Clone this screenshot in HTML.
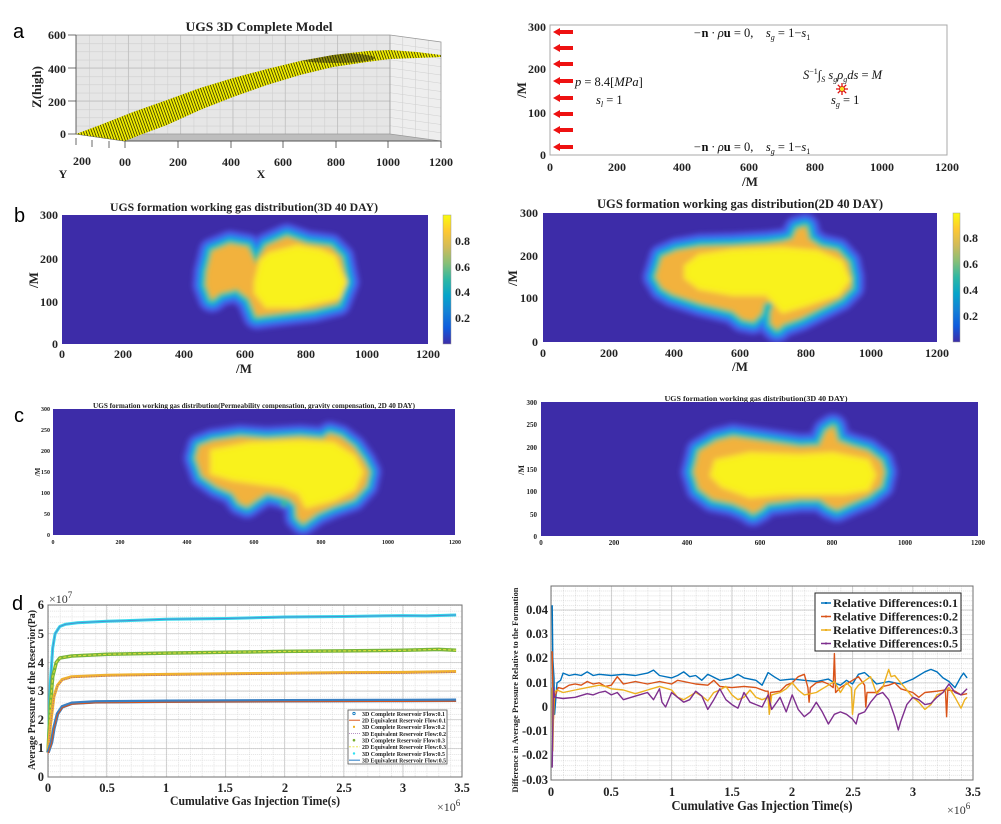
<!DOCTYPE html>
<html><head><meta charset="utf-8">
<style>
html,body{margin:0;padding:0;background:#fff;}
svg{display:block;}
.s{font-family:"Liberation Serif",serif;font-weight:bold;fill:#222;}
.m{font-family:"Liberation Serif",serif;font-style:italic;fill:#111;}
.l{font-family:"Liberation Sans",sans-serif;fill:#000;}
</style></head>
<body>
<svg width="1001" height="824" viewBox="0 0 1001 824" xmlns="http://www.w3.org/2000/svg">
<defs>
  <pattern id="gw" patternUnits="userSpaceOnUse" x="76" y="35" width="13.07" height="8.25">
    <path d="M0.3,0 V8.25 M0,0.3 H13.07" stroke="#cfcfcf" stroke-width="0.6" fill="none"/>
  </pattern>
  <pattern id="ys" patternUnits="userSpaceOnUse" width="2.6" height="2.6" patternTransform="rotate(70)">
    <rect width="2.6" height="2.6" fill="#f0ec00"/>
    <line x1="0" y1="0.4" x2="2.6" y2="0.4" stroke="#1a1a00" stroke-width="0.7"/>
  </pattern>
  <pattern id="gdl" patternUnits="userSpaceOnUse" x="48" y="777" width="11.83" height="5.733">
    <path d="M0.4,0 V5.733 M0,0.4 H11.83" stroke="#cfcfcf" stroke-width="0.6" stroke-dasharray="1,1" fill="none"/>
  </pattern>
  <pattern id="gdr" patternUnits="userSpaceOnUse" x="551" y="707" width="12.06" height="4.85">
    <path d="M0.4,0 V4.85 M0,0.4 H12.06" stroke="#cfcfcf" stroke-width="0.6" stroke-dasharray="1,1" fill="none"/>
  </pattern>
  <linearGradient id="par" x1="0" y1="1" x2="0" y2="0">
    <stop offset="0" stop-color="#3d2ca8"/>
    <stop offset="0.125" stop-color="#0f5cdd"/>
    <stop offset="0.25" stop-color="#1481d6"/>
    <stop offset="0.375" stop-color="#06a4ca"/>
    <stop offset="0.5" stop-color="#2eb7a4"/>
    <stop offset="0.625" stop-color="#87bf77"/>
    <stop offset="0.75" stop-color="#d1bb59"/>
    <stop offset="0.875" stop-color="#fec832"/>
    <stop offset="1" stop-color="#f9fb0e"/>
  </linearGradient>
  <filter id="bl" x="-30%" y="-30%" width="160%" height="160%"><feGaussianBlur stdDeviation="2.1"/></filter>
  <filter id="bl2" x="-30%" y="-30%" width="160%" height="160%"><feGaussianBlur stdDeviation="2.5"/></filter>
  <clipPath id="cb1"><rect x="62" y="215" width="366" height="129"/></clipPath>
  <clipPath id="cb2"><rect x="543" y="213" width="394" height="129"/></clipPath>
  <clipPath id="cc1"><rect x="53" y="409" width="402" height="126"/></clipPath>
  <clipPath id="cc2"><rect x="541" y="402" width="437" height="134"/></clipPath>
  <clipPath id="band"><path d="M76,134 L100,125 133,112 167,100 200,88 233,78 267,69 300,61 333,55 367,51 390,50 417,52 441,55 L441,57 417,58 390,59 367,62 333,67 300,75 267,85 233,97 200,110 167,125 140,135 125,141 Z"/></clipPath>
  <path id="pb1" d="M208,272 L213,252 230,245 247,248 255,265 267,247 287,238 307,245 330,248 340,258 345,282 337,302 313,308 280,312 257,315 250,298 237,288 220,292 212,298 207,285 Z"/>
  <path id="yb1" d="M257,282 L262,262 270,255 297,248 320,252 333,258 343,282 337,296 330,298 297,305 267,305 257,292 Z"/>
  <path id="pb2" d="M657,277 L663,258 677,252 700,248 733,247 767,245 783,243 793,240 798,230 805,228 808,240 820,248 837,252 847,263 850,277 850,287 840,297 820,307 800,317 783,323 777,328 772,323 772,313 775,303 770,300 763,303 760,313 753,320 743,318 733,310 700,302 673,293 663,287 Z"/>
  <path id="yb2" d="M687,267 L700,257 733,252 783,250 817,253 840,263 847,280 837,293 807,303 783,310 777,303 767,293 733,293 700,287 687,277 Z"/>
  <path id="pc1" d="M197,458 L200,447 213,442 240,438 267,440 300,438 323,440 330,435 340,438 353,448 363,462 368,472 365,485 353,498 333,505 317,512 303,522 298,517 297,505 290,498 280,495 267,492 257,498 247,505 240,502 233,492 217,485 203,475 Z"/>
  <path id="yc1" d="M213,452 L250,445 300,443 333,445 353,458 360,472 353,488 333,498 307,505 300,492 283,485 260,482 233,478 213,472 Z"/>
  <path id="pc2" d="M695,472 L700,452 717,442 733,438 767,443 800,448 820,447 827,432 833,428 837,442 850,447 867,452 880,462 883,472 880,485 867,495 850,502 837,508 830,505 820,498 800,498 767,502 760,508 753,512 747,508 733,502 713,498 700,488 Z"/>
  <path id="yc2" d="M717,462 L750,455 800,457 833,455 867,462 873,475 867,488 843,492 817,492 783,492 750,495 723,485 713,475 Z"/>
</defs>
<rect width="1001" height="824" fill="#fff"/>

<!-- ============ PANEL a LEFT ============ -->
<text class="l" x="13" y="38" font-size="20">a</text>
<text class="s" x="259" y="31" font-size="12.5" text-anchor="middle" textLength="147" lengthAdjust="spacingAndGlyphs">UGS 3D Complete Model</text>
<rect x="76" y="35" width="314" height="99" fill="#e6e6e6"/>
<rect x="76" y="35" width="314" height="99" fill="url(#gw)"/>
<path d="M128.3,35V134M180.6,35V134M232.9,35V134M285.2,35V134M337.5,35V134M76,68H390M76,101H390" stroke="#bdbdbd" stroke-width="0.7"/>
<polygon points="390,35 441,42 441,141 390,134" fill="#eeeeee"/>
<path d="M390,43.25L441,50.25M390,51.5L441,58.5M390,59.75L441,66.75M390,68L441,75M390,76.25L441,83.25M390,84.5L441,91.5M390,92.75L441,99.75M390,101L441,108M390,109.25L441,116.25M390,117.5L441,124.5M390,125.75L441,132.75M402.75,36.75V135.75M415.5,38.5V137.5M428.25,40.25V139.25" stroke="#d0d0d0" stroke-width="0.6"/>
<polygon points="76,134 390,134 441,141 125,141" fill="#bdbdbd"/>
<path d="M76,35H390M390,35V134M390,35L441,42V141M76,134H390L441,141" stroke="#999" stroke-width="0.8" fill="none"/>
<path d="M76,35V134L125,141H441" stroke="#555" stroke-width="0.9" fill="none"/>
<path d="M76,134 L100,125 133,112 167,100 200,88 233,78 267,69 300,61 333,55 367,51 390,50 417,52 441,55 L441,57 417,58 390,59 367,62 333,67 300,75 267,85 233,97 200,110 167,125 140,135 125,141 Z" fill="url(#ys)"/>
<g clip-path="url(#band)"><ellipse cx="335" cy="58" rx="40" ry="5" fill="#111" opacity="0.45"/></g>
<path d="M68,35H76M68,68H76M68,101H76M68,134H76" stroke="#444" stroke-width="0.8"/>
<path d="M125,141V148M178,141V148M231,141V148M283,141V148M336,141V148M388,141V148M441,141V148M76,138V145M92,140V147M109,141V148" stroke="#444" stroke-width="0.8"/>
<g class="s" font-size="12">
<text x="66" y="39" text-anchor="end">600</text>
<text x="66" y="73" text-anchor="end">400</text>
<text x="66" y="106" text-anchor="end">200</text>
<text x="66" y="138" text-anchor="end">0</text>
<text x="82" y="165" text-anchor="middle">200</text>
<text x="125" y="166" text-anchor="middle">00</text>
<text x="178" y="166" text-anchor="middle">200</text>
<text x="231" y="166" text-anchor="middle">400</text>
<text x="283" y="166" text-anchor="middle">600</text>
<text x="336" y="166" text-anchor="middle">800</text>
<text x="388" y="166" text-anchor="middle">1000</text>
<text x="441" y="166" text-anchor="middle">1200</text>
<text x="63" y="178" text-anchor="middle">Y</text>
<text x="261" y="178" text-anchor="middle">X</text>
<text transform="translate(41,87) rotate(-90)" text-anchor="middle" font-size="13">Z(high)</text>
</g>

<!-- ============ PANEL a RIGHT ============ -->
<rect x="550" y="25" width="397" height="130" fill="#fff" stroke="#a8a8a8" stroke-width="1"/>
<g fill="#ee1111">
<path d="M553,32 L560,28 V30 H573 V34 H560 V36 Z"/>
<path d="M553,48 L560,44 V46 H573 V50 H560 V52 Z"/>
<path d="M553,64 L560,60 V62 H573 V66 H560 V68 Z"/>
<path d="M553,81 L560,77 V79 H573 V83 H560 V85 Z"/>
<path d="M553,98 L560,94 V96 H573 V100 H560 V102 Z"/>
<path d="M553,114 L560,110 V112 H573 V116 H560 V118 Z"/>
<path d="M553,130 L560,126 V128 H573 V132 H560 V134 Z"/>
<path d="M553,147 L560,143 V145 H573 V149 H560 V151 Z"/>
</g>
<g class="s" font-size="12">
<text x="546" y="31" text-anchor="end">300</text>
<text x="546" y="73" text-anchor="end">200</text>
<text x="546" y="117" text-anchor="end">100</text>
<text x="546" y="159" text-anchor="end">0</text>
<text x="550" y="171" text-anchor="middle">0</text>
<text x="617" y="171" text-anchor="middle">200</text>
<text x="682" y="171" text-anchor="middle">400</text>
<text x="749" y="171" text-anchor="middle">600</text>
<text x="815" y="171" text-anchor="middle">800</text>
<text x="882" y="171" text-anchor="middle">1000</text>
<text x="947" y="171" text-anchor="middle">1200</text>
<text x="750" y="186" text-anchor="middle" font-size="13">/M</text>
<text transform="translate(526,90) rotate(-90)" text-anchor="middle" font-size="13">/M</text>
</g>
<g class="m" font-size="12.5">
<text x="693" y="37">−<tspan font-weight="bold" font-style="normal">n</tspan> · ρ<tspan font-weight="bold" font-style="normal">u</tspan><tspan font-style="normal"> = 0,</tspan>&#160;&#160;&#160; s<tspan font-size="8" dy="3">g</tspan><tspan dy="-3" font-style="normal"> = 1−</tspan>s<tspan font-size="8" dy="3" font-style="normal">1</tspan></text>
<text x="693" y="151">−<tspan font-weight="bold" font-style="normal">n</tspan> · ρ<tspan font-weight="bold" font-style="normal">u</tspan><tspan font-style="normal"> = 0,</tspan>&#160;&#160;&#160; s<tspan font-size="8" dy="3">g</tspan><tspan dy="-3" font-style="normal"> = 1−</tspan>s<tspan font-size="8" dy="3" font-style="normal">1</tspan></text>
<text x="575" y="86">p<tspan font-style="normal"> = 8.4[</tspan>MPa<tspan font-style="normal">]</tspan></text>
<text x="596" y="104">s<tspan font-size="8" dy="3">l</tspan><tspan dy="-3" font-style="normal"> = 1</tspan></text>
<text x="803" y="79">S<tspan font-size="8" dy="-5" font-style="normal">−1</tspan><tspan dy="5" font-style="normal">∫</tspan><tspan font-size="8" dy="3">S</tspan><tspan dy="-3"> s</tspan><tspan font-size="8" dy="3">g</tspan><tspan dy="-3">ρ</tspan><tspan font-size="8" dy="3">g</tspan><tspan dy="-3">ds</tspan><tspan font-style="normal"> = </tspan>M</text>
<text x="831" y="104">s<tspan font-size="8" dy="3">g</tspan><tspan dy="-3" font-style="normal"> = 1</tspan></text>
</g>
<g stroke="#e01010" stroke-width="1.3">
<path d="M836,89H848M842,83V95M837.8,84.8L846.2,93.2M846.2,84.8L837.8,93.2"/>
</g>
<circle cx="842" cy="89" r="2.6" fill="#f5e020" stroke="#d01010" stroke-width="0.8"/>

<!-- ============ PANEL b LEFT ============ -->
<text class="l" x="14" y="222" font-size="20">b</text>
<text class="s" x="244" y="211" font-size="12" text-anchor="middle" textLength="268" lengthAdjust="spacingAndGlyphs">UGS formation working gas distribution(3D 40 DAY)</text>
<g clip-path="url(#cb1)">
<rect x="62" y="215" width="366" height="129" fill="#3d2ca8"/>
<g filter="url(#bl)" stroke-linejoin="round">
<use href="#pb1" fill="#4a4fdc" stroke="#4a4fdc" stroke-width="30"/>
<use href="#pb1" fill="#2a78f0" stroke="#2a78f0" stroke-width="22"/>
<use href="#pb1" fill="#12b2d4" stroke="#12b2d4" stroke-width="15"/>
<use href="#pb1" fill="#3cbf96" stroke="#3cbf96" stroke-width="9"/>
<use href="#pb1" fill="#a8bc5c" stroke="#a8bc5c" stroke-width="4"/>
<use href="#pb1" fill="#f2b23e"/>
<use href="#yb1" fill="#f8d830" stroke="#f8d830" stroke-width="8"/>
<use href="#yb1" fill="#f9f21c" stroke="#f9ec20" stroke-width="3"/>
</g>
</g>
<rect x="443" y="215" width="8" height="129" fill="url(#par)" stroke="#999" stroke-width="0.5"/>
<g class="s" font-size="12">
<text x="455" y="245">0.8</text>
<text x="455" y="271">0.6</text>
<text x="455" y="296">0.4</text>
<text x="455" y="322">0.2</text>
<text x="58" y="219" text-anchor="end">300</text>
<text x="58" y="263" text-anchor="end">200</text>
<text x="58" y="306" text-anchor="end">100</text>
<text x="58" y="348" text-anchor="end">0</text>
<text x="62" y="358" text-anchor="middle">0</text>
<text x="123" y="358" text-anchor="middle">200</text>
<text x="184" y="358" text-anchor="middle">400</text>
<text x="245" y="358" text-anchor="middle">600</text>
<text x="306" y="358" text-anchor="middle">800</text>
<text x="367" y="358" text-anchor="middle">1000</text>
<text x="428" y="358" text-anchor="middle">1200</text>
<text x="244" y="373" text-anchor="middle" font-size="13">/M</text>
<text transform="translate(38,280) rotate(-90)" text-anchor="middle" font-size="13">/M</text>
</g>

<!-- ============ PANEL b RIGHT ============ -->
<text class="s" x="740" y="208" font-size="12.5" text-anchor="middle" textLength="286" lengthAdjust="spacingAndGlyphs">UGS formation working gas distribution(2D 40 DAY)</text>
<g clip-path="url(#cb2)">
<rect x="543" y="213" width="394" height="129" fill="#3d2ca8"/>
<g filter="url(#bl)" stroke-linejoin="round">
<use href="#pb2" fill="#4a4fdc" stroke="#4a4fdc" stroke-width="30"/>
<use href="#pb2" fill="#2a78f0" stroke="#2a78f0" stroke-width="22"/>
<use href="#pb2" fill="#12b2d4" stroke="#12b2d4" stroke-width="15"/>
<use href="#pb2" fill="#3cbf96" stroke="#3cbf96" stroke-width="9"/>
<use href="#pb2" fill="#a8bc5c" stroke="#a8bc5c" stroke-width="4"/>
<use href="#pb2" fill="#f2b23e"/>
<use href="#yb2" fill="#f8d830" stroke="#f8d830" stroke-width="8"/>
<use href="#yb2" fill="#f9f21c" stroke="#f9ec20" stroke-width="3"/>
</g>
</g>
<rect x="953" y="213" width="7" height="129" fill="url(#par)" stroke="#999" stroke-width="0.5"/>
<g class="s" font-size="12">
<text x="963" y="242">0.8</text>
<text x="963" y="268">0.6</text>
<text x="963" y="294">0.4</text>
<text x="963" y="320">0.2</text>
<text x="538" y="217" text-anchor="end">300</text>
<text x="538" y="260" text-anchor="end">200</text>
<text x="538" y="302" text-anchor="end">100</text>
<text x="538" y="346" text-anchor="end">0</text>
<text x="543" y="357" text-anchor="middle">0</text>
<text x="609" y="357" text-anchor="middle">200</text>
<text x="674" y="357" text-anchor="middle">400</text>
<text x="740" y="357" text-anchor="middle">600</text>
<text x="806" y="357" text-anchor="middle">800</text>
<text x="871" y="357" text-anchor="middle">1000</text>
<text x="937" y="357" text-anchor="middle">1200</text>
<text x="740" y="371" text-anchor="middle" font-size="13">/M</text>
<text transform="translate(517,278) rotate(-90)" text-anchor="middle" font-size="13">/M</text>
</g>

<!-- ============ PANEL c LEFT ============ -->
<text class="l" x="14" y="422" font-size="20">c</text>
<text class="s" x="254" y="408" font-size="7" text-anchor="middle" textLength="322" lengthAdjust="spacingAndGlyphs">UGS formation working gas distribution(Permeability compensation, gravity compensation, 2D 40 DAY)</text>
<g clip-path="url(#cc1)">
<rect x="53" y="409" width="402" height="126" fill="#3d2ca8"/>
<g filter="url(#bl2)" stroke-linejoin="round">
<use href="#pc1" fill="#4a4fdc" stroke="#4a4fdc" stroke-width="28"/>
<use href="#pc1" fill="#2a78f0" stroke="#2a78f0" stroke-width="20"/>
<use href="#pc1" fill="#12b2d4" stroke="#12b2d4" stroke-width="14"/>
<use href="#pc1" fill="#3cbf96" stroke="#3cbf96" stroke-width="8"/>
<use href="#pc1" fill="#a8bc5c" stroke="#a8bc5c" stroke-width="4"/>
<use href="#pc1" fill="#f2b23e"/>
<use href="#yc1" fill="#f8d830" stroke="#f8d830" stroke-width="8"/>
<use href="#yc1" fill="#f9f21c" stroke="#f9ec20" stroke-width="3"/>
<circle cx="284" cy="504" r="3" fill="#3cbf8c"/>
</g>
</g>
<g class="s" font-size="6">
<text x="50" y="411" text-anchor="end">300</text>
<text x="50" y="432" text-anchor="end">250</text>
<text x="50" y="453" text-anchor="end">200</text>
<text x="50" y="474" text-anchor="end">150</text>
<text x="50" y="495" text-anchor="end">100</text>
<text x="50" y="516" text-anchor="end">50</text>
<text x="50" y="537" text-anchor="end">0</text>
<text x="53" y="544" text-anchor="middle">0</text>
<text x="120" y="544" text-anchor="middle">200</text>
<text x="187" y="544" text-anchor="middle">400</text>
<text x="254" y="544" text-anchor="middle">600</text>
<text x="321" y="544" text-anchor="middle">800</text>
<text x="388" y="544" text-anchor="middle">1000</text>
<text x="455" y="544" text-anchor="middle">1200</text>
<text transform="translate(40,472) rotate(-90)" text-anchor="middle" font-size="7">/M</text>
</g>

<!-- ============ PANEL c RIGHT ============ -->
<text class="s" x="756" y="401" font-size="7.5" text-anchor="middle" textLength="183" lengthAdjust="spacingAndGlyphs">UGS formation working gas distribution(3D 40 DAY)</text>
<g clip-path="url(#cc2)">
<rect x="541" y="402" width="437" height="134" fill="#3d2ca8"/>
<g filter="url(#bl2)" stroke-linejoin="round">
<use href="#pc2" fill="#4a4fdc" stroke="#4a4fdc" stroke-width="30"/>
<use href="#pc2" fill="#2a78f0" stroke="#2a78f0" stroke-width="22"/>
<use href="#pc2" fill="#12b2d4" stroke="#12b2d4" stroke-width="15"/>
<use href="#pc2" fill="#3cbf96" stroke="#3cbf96" stroke-width="9"/>
<use href="#pc2" fill="#a8bc5c" stroke="#a8bc5c" stroke-width="4"/>
<use href="#pc2" fill="#f2b23e"/>
<use href="#yc2" fill="#f8d830" stroke="#f8d830" stroke-width="8"/>
<use href="#yc2" fill="#f9f21c" stroke="#f9ec20" stroke-width="3"/>
</g>
</g>
<g class="s" font-size="7">
<text x="537" y="405" text-anchor="end">300</text>
<text x="537" y="427" text-anchor="end">250</text>
<text x="537" y="450" text-anchor="end">200</text>
<text x="537" y="472" text-anchor="end">150</text>
<text x="537" y="494" text-anchor="end">100</text>
<text x="537" y="517" text-anchor="end">50</text>
<text x="537" y="539" text-anchor="end">0</text>
<text x="541" y="545" text-anchor="middle">0</text>
<text x="614" y="545" text-anchor="middle">200</text>
<text x="687" y="545" text-anchor="middle">400</text>
<text x="760" y="545" text-anchor="middle">600</text>
<text x="832" y="545" text-anchor="middle">800</text>
<text x="905" y="545" text-anchor="middle">1000</text>
<text x="978" y="545" text-anchor="middle">1200</text>
<text transform="translate(524,470) rotate(-90)" text-anchor="middle" font-size="8">/M</text>
</g>

<!-- ============ PANEL d LEFT ============ -->
<text class="l" x="12" y="610" font-size="20">d</text>
<rect x="48" y="605" width="414" height="172" fill="#fff"/>
<rect x="48" y="605" width="414" height="172" fill="url(#gdl)"/>
<path d="M106.3,605V777M166.3,605V777M225.5,605V777M284.6,605V777M343.8,605V777M402.9,605V777M48,748.3H462M48,719.7H462M48,691H462M48,662.3H462M48,633.7H462" stroke="#c4c4c4" stroke-width="0.7"/>
<rect x="48" y="605" width="414" height="172" fill="none" stroke="#707070" stroke-width="1"/>
<polyline fill="none" stroke="#36d8ec" stroke-width="3" stroke-linejoin="round" points="48,752.6 49.2,719.7 50.4,682.4 52.7,648 55.1,633.7 59.8,626.5 65.7,624.2 77.6,622.8 107.2,621.3 166.3,619.3 225.5,618.5 284.6,617 343.8,616.5 402.9,615.6 426.6,615.9 456.1,615"/>
<polyline fill="none" stroke="#4a8fcf" stroke-width="1" points="48,752.6 49.2,719.7 50.4,682.4 52.7,648 55.1,633.7 59.8,626.5 65.7,624.2 77.6,622.8 107.2,621.3 166.3,619.3 225.5,618.5 284.6,617 343.8,616.5 402.9,615.6 426.6,615.9 456.1,615"/>
<polyline fill="none" stroke="#78b43a" stroke-width="3.5" stroke-linejoin="round" points="48,752.6 50.4,705.3 52.7,676.7 56.3,662.3 59.8,658 71.7,656 107.2,654.3 166.3,653.1 225.5,652.3 284.6,651.4 343.8,650.9 402.9,650.3 438.4,649.4 456.1,650.3"/>
<polyline fill="none" stroke="#e6e23a" stroke-width="1" stroke-dasharray="3,2" points="48,752.6 50.4,705.3 52.7,676.7 56.3,662.3 59.8,658 71.7,656 107.2,654.3 166.3,653.1 225.5,652.3 284.6,651.4 343.8,650.9 402.9,650.3 438.4,649.4 456.1,650.3"/>
<polyline fill="none" stroke="#efb030" stroke-width="3" stroke-linejoin="round" points="48,752.6 50.4,725.4 53.9,696.7 57.5,685.3 62.2,679.5 71.7,676.7 107.2,675.2 166.3,674.4 225.5,673.8 284.6,673.2 343.8,672.6 402.9,672.4 456.1,671.5"/>
<polyline fill="none" stroke="#9a5aa8" stroke-width="0.8" stroke-dasharray="1,1.5" points="48,753.6 50.4,726.4 53.9,697.7 57.5,686.3 62.2,680.5 71.7,677.7 107.2,676.2 166.3,675.4 225.5,674.8 284.6,674.2 343.8,673.6 402.9,673.4 456.1,672.5"/>
<polyline fill="none" stroke="#3b80c2" stroke-width="3.5" stroke-linejoin="round" points="48,752.6 51.5,742.6 53.9,728.3 57.5,713.9 62.2,706.8 71.7,703.3 95.3,701.9 166.3,701.3 284.6,700.7 402.9,700.5 456.1,700.2"/>
<polyline fill="none" stroke="#d95319" stroke-width="1" points="48,753.6 51.5,743.6 53.9,729.3 57.5,714.9 62.2,707.8 71.7,704.3 95.3,702.9 166.3,702.3 284.6,701.7 402.9,701.5 456.1,701.2"/>
<rect x="348" y="710" width="99" height="54" fill="#fff" stroke="#555" stroke-width="0.8"/>
<circle cx="354" cy="713.5" r="1.2" fill="none" stroke="#0072bd" stroke-width="0.8"/>
<line x1="349" y1="720.2" x2="360" y2="720.2" stroke="#d95319" stroke-width="1"/>
<rect x="353" y="725.8" width="2" height="2" fill="#edb120"/>
<line x1="349" y1="733.5" x2="360" y2="733.5" stroke="#a070b0" stroke-width="0.8" stroke-dasharray="1,1"/>
<circle cx="354" cy="740.2" r="1.3" fill="#77ac30"/>
<line x1="349" y1="746.8" x2="360" y2="746.8" stroke="#e6e23a" stroke-width="0.9" stroke-dasharray="2,1.5"/>
<circle cx="354" cy="753.5" r="1.2" fill="#30e0f0"/>
<line x1="349" y1="760.2" x2="360" y2="760.2" stroke="#4a8fcf" stroke-width="1.2"/>
<g class="s" font-size="6">
<text x="362" y="715.8" textLength="83" lengthAdjust="spacingAndGlyphs">3D Complete Reservoir Flow:0.1</text>
<text x="362" y="722.5" textLength="84" lengthAdjust="spacingAndGlyphs">2D Equivalent Reservoir Flow:0.1</text>
<text x="362" y="729.1" textLength="83" lengthAdjust="spacingAndGlyphs">3D Complete Reservoir Flow:0.2</text>
<text x="362" y="735.8" textLength="84" lengthAdjust="spacingAndGlyphs">3D Equivalent Reservoir Flow:0.2</text>
<text x="362" y="742.5" textLength="83" lengthAdjust="spacingAndGlyphs">3D Complete Reservoir Flow:0.3</text>
<text x="362" y="749.1" textLength="84" lengthAdjust="spacingAndGlyphs">2D Equivalent Reservoir Flow:0.3</text>
<text x="362" y="755.8" textLength="83" lengthAdjust="spacingAndGlyphs">3D Complete Reservoir Flow:0.5</text>
<text x="362" y="762.5" textLength="84" lengthAdjust="spacingAndGlyphs">3D Equivalent Reservoir Flow:0.5</text>
</g>
<g class="s" font-size="12.5">
<text x="44" y="609" text-anchor="end">6</text>
<text x="44" y="638" text-anchor="end">5</text>
<text x="44" y="667" text-anchor="end">4</text>
<text x="44" y="695" text-anchor="end">3</text>
<text x="44" y="724" text-anchor="end">2</text>
<text x="44" y="752" text-anchor="end">1</text>
<text x="44" y="781" text-anchor="end">0</text>
<text x="48" y="792" text-anchor="middle">0</text>
<text x="107" y="792" text-anchor="middle">0.5</text>
<text x="166" y="792" text-anchor="middle">1</text>
<text x="225" y="792" text-anchor="middle">1.5</text>
<text x="285" y="792" text-anchor="middle">2</text>
<text x="344" y="792" text-anchor="middle">2.5</text>
<text x="403" y="792" text-anchor="middle">3</text>
<text x="462" y="792" text-anchor="middle">3.5</text>
<text x="255" y="805" text-anchor="middle" font-size="13" textLength="170" lengthAdjust="spacingAndGlyphs">Cumulative Gas Injection Time(s)</text>
<text transform="translate(35,690) rotate(-90)" text-anchor="middle" font-size="10" textLength="160" lengthAdjust="spacingAndGlyphs">Average Pressure of the Reservior(Pa)</text>
</g>
<text x="49" y="603" font-family="Liberation Serif,serif" font-size="12" fill="#333">×10<tspan font-size="9" dy="-5">7</tspan></text>
<text x="437" y="811" font-family="Liberation Serif,serif" font-size="12" fill="#333">×10<tspan font-size="9" dy="-5">6</tspan></text>

<!-- ============ PANEL d RIGHT ============ -->
<rect x="551" y="586" width="422" height="194" fill="#fff"/>
<rect x="551" y="586" width="422" height="194" fill="url(#gdr)"/>
<path d="M611.3,586V780M671.6,586V780M731.9,586V780M792.2,586V780M852.5,586V780M912.8,586V780M551,610H973M551,634.3H973M551,658.5H973M551,682.8H973M551,707H973M551,731.3H973M551,755.5H973" stroke="#c4c4c4" stroke-width="0.7"/>
<rect x="551" y="586" width="422" height="194" fill="none" stroke="#707070" stroke-width="1"/>
<g fill="none" stroke-width="1.4" stroke-linejoin="round">
<polyline stroke="#0072bd" points="552.2,605.2 552.8,658.5 554,677.9 554.6,714.3 557,682.8 560.6,680.3 563.1,673.1 569.1,675.5 575.1,674.3 581.2,675.5 587.2,671.8 593.2,675.5 599.2,674.3 611.3,675.5 623.4,674.3 635.4,675.5 647.5,673.1 653.5,670.1 659.5,675.5 671.6,677.9 677.6,675.5 683.7,671.8 689.7,676.7 695.7,675.5 701.8,680.3 707.8,674.3 719.8,680.3 731.9,677.9 737.9,674.3 744,677.9 756,680.3 762.1,685.2 768.1,672.6 774.1,676.7 780.1,680.3 792.2,679.1 804.3,680.3 816.3,681.5 828.4,679.1 834.4,682.8 840.4,685.2 846.5,680.3 852.5,684 858.5,674.3 864.6,672.6 870.6,677.9 876.6,684 888.7,681.5 900.7,684 912.8,679.1 924.9,671.8 930.9,669.4 936.9,671.8 943,677.9 949,681.5 955,687.6 961,676.7 963.5,673.1 967.1,677.9"/>
<polyline stroke="#d95319" points="552.2,651.2 553.4,719.1 554.6,697.3 558.2,687.6 563.1,688.8 569.1,685.2 575.1,684 581.2,685.2 587.2,681.5 593.2,684 599.2,682.8 605.3,686.4 611.3,685.2 617.3,676.7 623.4,684 635.4,681.5 647.5,684 659.5,681.5 671.6,684 677.6,680.3 683.7,681.5 695.7,684 707.8,685.2 713.8,680.3 719.8,686.4 731.9,687.6 744,686.4 756,687.6 765.7,691.2 768.1,691.2 769.3,709.4 770.5,692.5 780.1,691.2 786.2,685.2 792.2,682.8 798.2,676.7 804.3,674.3 807.9,687.6 809.1,702.2 810.3,687.6 816.3,682.8 822.3,681.5 828.4,684 833.2,687.6 834.4,653.6 835.6,692.5 840.4,687.6 846.5,684 852.5,680.3 858.5,676.7 864.6,685.2 865.8,707 867,692.5 876.6,692.5 882.7,686.4 888.7,685.2 894.7,682.8 900.7,688.8 912.8,692.5 918.8,697.3 924.9,692.5 936.9,691.2 945.4,690 946.6,716.7 947.8,690 955,691.2 961,694.9 967.1,693.7"/>
<polyline stroke="#edb120" points="552.2,687.6 552.8,750.7 554,692.5 557,690 563.1,692.5 575.1,690 587.2,687.6 599.2,685.2 605.3,686.4 611.3,688.8 623.4,690 635.4,693.7 647.5,690 659.5,686.4 671.6,690 677.6,697.3 683.7,699.7 695.7,692.5 701.8,696.1 707.8,700.9 713.8,692.5 719.8,690 725.9,686.4 731.9,694.9 737.9,699.7 744,697.3 750,690 756,697.3 762.1,699.7 768.1,697.3 769.3,714.3 771.7,694.9 780.1,692.5 786.2,688.8 792.2,682.8 798.2,690 804.3,694.9 816.3,692.5 822.3,688.8 828.4,685.2 834.4,681.5 840.4,692.5 846.5,682.8 851.3,687.6 852.5,714.3 854.9,690 858.5,685.2 870.6,676.7 876.6,693.7 882.7,687.6 888.7,669.4 891.1,676.7 894.7,675.5 900.7,682.8 906.8,690 912.8,697.3 918.8,702.2 924.9,709.4 930.9,704.6 936.9,694.9 943,692.5 949,687.6 955,697.3 961,708.2 964.7,699.7 967.1,697.3"/>
<polyline stroke="#7e2f8e" points="552.2,767.6 553.4,687.6 554.6,697.3 563.1,698.5 575.1,697.3 587.2,693.7 593.2,694.9 599.2,692.5 605.3,691.2 611.3,694.9 617.3,692.5 623.4,699.7 635.4,696.1 647.5,692.5 653.5,699.7 659.5,688.8 662,702.2 665.6,707 671.6,692.5 677.6,697.3 683.7,702.2 689.7,699.7 695.7,691.2 701.8,696.1 707.8,709.4 713.8,699.7 719.8,688.8 725.9,699.7 731.9,704.6 737.9,708.2 744,692.5 750,702.2 756,704.6 762.1,707 768.1,694.9 771.7,709.4 780.1,697.3 786.2,711.9 792.2,694.9 798.2,709.4 804.3,716.7 810.3,711.9 816.3,702.2 822.3,711.9 828.4,724 834.4,714.3 840.4,711.9 846.5,714.3 852.5,719.1 856.1,724 858.5,714.3 864.6,711.9 870.6,702.2 876.6,694.9 882.7,692.5 888.7,699.7 894.7,716.7 898.3,730 900.7,721.6 906.8,704.6 912.8,697.3 918.8,699.7 924.9,704.6 930.9,703.4 936.9,697.3 943,692.5 949,684 955,692.5 961,694.9 967.1,688.8"/>
</g>
<rect x="815" y="593" width="146" height="58" fill="#fff" stroke="#222" stroke-width="1"/>
<line x1="821" y1="603" x2="831" y2="603" stroke="#0072bd" stroke-width="1.5"/><rect x="825" y="602" width="2" height="2" fill="#0072bd"/>
<line x1="821" y1="616.5" x2="831" y2="616.5" stroke="#d95319" stroke-width="1.5"/><rect x="825" y="615.5" width="2" height="2" fill="#d95319"/>
<line x1="821" y1="630" x2="831" y2="630" stroke="#edb120" stroke-width="1.5"/><rect x="825" y="629" width="2" height="2" fill="#edb120"/>
<line x1="821" y1="643.5" x2="831" y2="643.5" stroke="#7e2f8e" stroke-width="1.5"/><rect x="825" y="642.5" width="2" height="2" fill="#7e2f8e"/>
<g class="s" font-size="12">
<text x="833" y="607" textLength="125" lengthAdjust="spacingAndGlyphs">Relative Differences:0.1</text>
<text x="833" y="620.5" textLength="125" lengthAdjust="spacingAndGlyphs">Relative Differences:0.2</text>
<text x="833" y="634" textLength="125" lengthAdjust="spacingAndGlyphs">Relative Differences:0.3</text>
<text x="833" y="647.5" textLength="125" lengthAdjust="spacingAndGlyphs">Relative Differences:0.5</text>
</g>
<g class="s" font-size="12.5">
<text x="548" y="614" text-anchor="end">0.04</text>
<text x="548" y="638" text-anchor="end">0.03</text>
<text x="548" y="662" text-anchor="end">0.02</text>
<text x="548" y="687" text-anchor="end">0.01</text>
<text x="548" y="711" text-anchor="end">0</text>
<text x="548" y="735" text-anchor="end">-0.01</text>
<text x="548" y="759" text-anchor="end">-0.02</text>
<text x="548" y="784" text-anchor="end">-0.03</text>
<text x="551" y="796" text-anchor="middle">0</text>
<text x="611" y="796" text-anchor="middle">0.5</text>
<text x="672" y="796" text-anchor="middle">1</text>
<text x="732" y="796" text-anchor="middle">1.5</text>
<text x="792" y="796" text-anchor="middle">2</text>
<text x="853" y="796" text-anchor="middle">2.5</text>
<text x="913" y="796" text-anchor="middle">3</text>
<text x="973" y="796" text-anchor="middle">3.5</text>
<text x="762" y="810" text-anchor="middle" font-size="13.5" textLength="181" lengthAdjust="spacingAndGlyphs">Cumulative Gas Injection Time(s)</text>
<text transform="translate(518,690) rotate(-90)" text-anchor="middle" font-size="8.5" textLength="205" lengthAdjust="spacingAndGlyphs">Difference in Average Pressure Relative to the Formation</text>
</g>
<text x="947" y="814" font-family="Liberation Serif,serif" font-size="12" fill="#333">×10<tspan font-size="9" dy="-5">6</tspan></text>
</svg>
</body></html>
